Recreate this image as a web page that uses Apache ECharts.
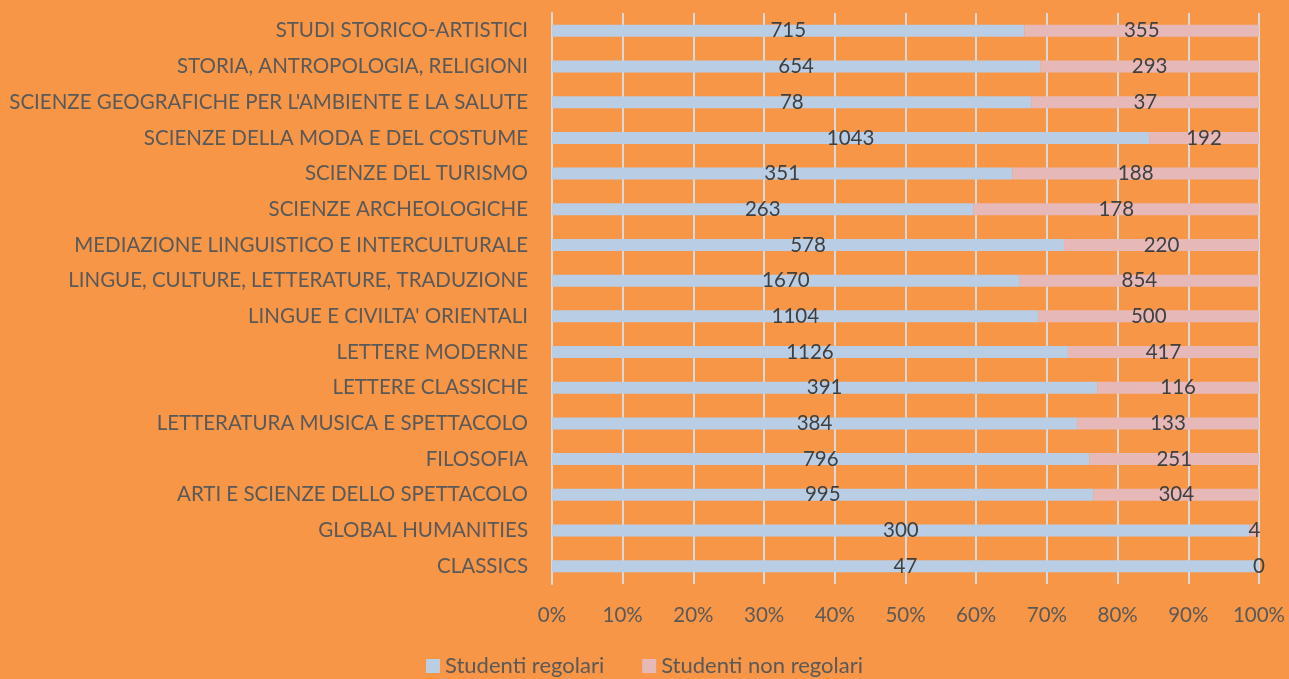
<!DOCTYPE html>
<html lang="it">
<head>
    <meta charset="UTF-8">
    <title>studenti</title>
    <script src="https://cdn.jsdelivr.net/npm/echarts@6/dist/echarts.min.js"></script>
    <style>
        html, body { margin: 0; padding: 0; background: #F79646; }
    </style>
</head>
<body>
<div id="main" style="width: 1289px;height:679px;"></div>
</body>

<script type="text/javascript">

    // corsi, dall'alto in basso
    var corsi = [
        'STUDI STORICO-ARTISTICI',
        'STORIA, ANTROPOLOGIA, RELIGIONI',
        "SCIENZE GEOGRAFICHE PER L'AMBIENTE E LA SALUTE",
        'SCIENZE DELLA MODA E DEL COSTUME',
        'SCIENZE DEL TURISMO',
        'SCIENZE ARCHEOLOGICHE',
        'MEDIAZIONE LINGUISTICO E INTERCULTURALE',
        'LINGUE, CULTURE, LETTERATURE, TRADUZIONE',
        "LINGUE E CIVILTA' ORIENTALI",
        'LETTERE MODERNE',
        'LETTERE CLASSICHE',
        'LETTERATURA MUSICA E SPETTACOLO',
        'FILOSOFIA',
        'ARTI E SCIENZE DELLO SPETTACOLO',
        'GLOBAL HUMANITIES',
        'CLASSICS'
    ];

    var regolari = [715, 654, 78, 1043, 351, 263, 578, 1670, 1104, 1126, 391, 384, 796, 995, 300, 47];
    var nonRegolari = [355, 293, 37, 192, 188, 178, 220, 854, 500, 417, 116, 133, 251, 304, 4, 0];

    var tickPct = [0, 10, 20, 30, 40, 50, 60, 70, 80, 90, 100];

    var font = 'Lato, "Open Sans", sans-serif';

    // percentuali per la barra al 100%
    var toPct = function (arr) {
        var res = [];
        for (var i = 0; i < arr.length; i++) {
            var tot = regolari[i] + nonRegolari[i];
            res.push({value: tot ? arr[i] / tot * 100 : 0, raw: arr[i]});
        }
        return res;
    };

    var labelOpt = {
        show: true,
        position: 'inside',
        color: '#404040',
        fontFamily: font,
        fontSize: 20.5,
        formatter: function (p) { return p.data.raw; }
    };

    var myChart = echarts.init(document.getElementById('main'));

    var option = {
        backgroundColor: '#F79646',
        animation: false,
        grid: {
            left: 552,
            right: 30,
            top: 13,
            bottom: 95
        },
        legend: {
            top: 654,
            left: 'center',
            padding: 0,
            itemWidth: 14,
            itemHeight: 14,
            itemGap: 38,
            icon: 'rect',
            textStyle: {color: '#595959', fontFamily: font, fontSize: 22, lineHeight: 24},
            data: ['Studenti regolari', 'Studenti non regolari']
        },
        xAxis: {
            type: 'value',
            min: 0,
            max: 100,
            interval: 10,
            axisLine: {show: false},
            axisTick: {show: false},
            splitLine: {lineStyle: {color: '#D9D9D9', width: 2}},
            axisLabel: {
                color: '#595959',
                fontFamily: font,
                fontSize: 20.5,
                margin: 21,
                formatter: function (v) { return tickPct.indexOf(v) >= 0 ? v + '%' : ''; }
            }
        },
        yAxis: {
            type: 'category',
            inverse: true,
            data: corsi,
            axisLine: {lineStyle: {color: '#D9D9D9', width: 2}},
            axisTick: {show: false},
            axisLabel: {
                color: '#595959',
                fontFamily: font,
                fontSize: 20.5,
                margin: 24
            }
        },
        series: [
            {
                name: 'Studenti regolari',
                type: 'bar',
                stack: 'tot',
                barWidth: 12,
                itemStyle: {color: '#B9CDE5'},
                label: labelOpt,
                data: toPct(regolari)
            },
            {
                name: 'Studenti non regolari',
                type: 'bar',
                stack: 'tot',
                barWidth: 12,
                itemStyle: {color: '#E6B9B8'},
                label: labelOpt,
                data: toPct(nonRegolari)
            }
        ]
    };

    myChart.setOption(option);

</script>
</html>
